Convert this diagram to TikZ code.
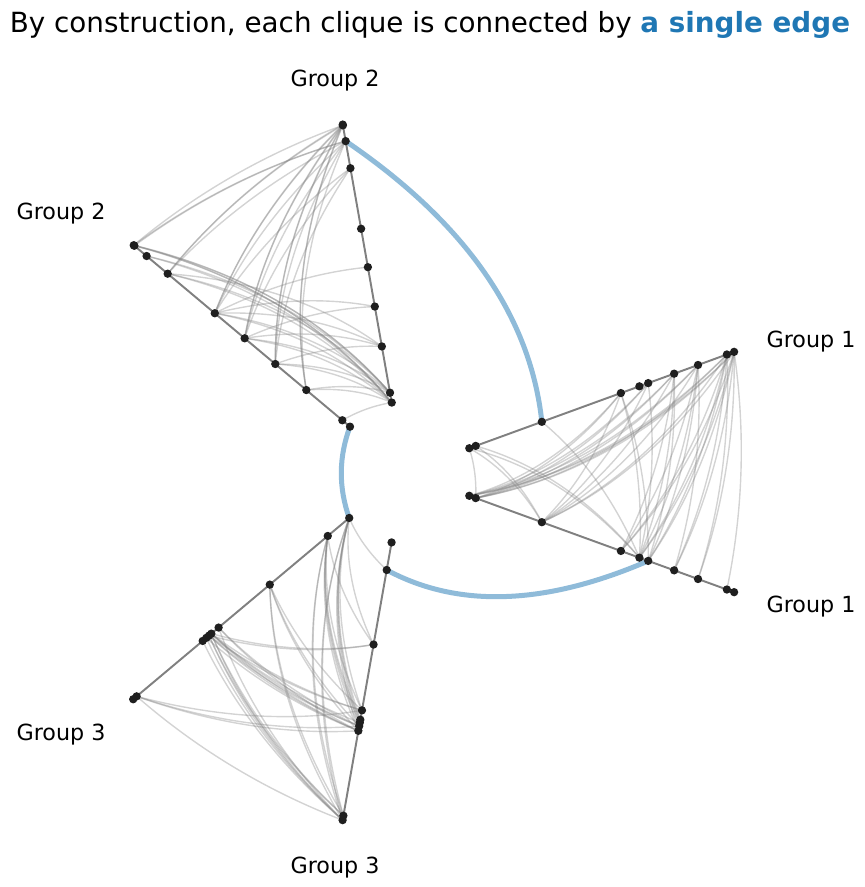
\documentclass[tikz,border=0pt]{standalone}
\usepackage{fontspec}
\setmainfont{DejaVu Sans}
\usetikzlibrary{calc}
\definecolor{hiveblue}{RGB}{31,119,180}
\pgfdeclarelayer{edges}
\pgfdeclarelayer{axes}
\pgfsetlayers{edges,axes,main}

% node radii (inner to outer) and node order of each clique
\def\radsone{{69.5,76.3,146.7,230.8,250.5,259.9,287.5,312.9,343.6,351.3}}
\def\radstwo{{70.5,80.5,127.5,168,208,247,308.5,336,352,352.8}}
\def\radsthree{{71.5,99.5,175.2,242,251.5,254.5,258,262.8,349,353.5}}
\def\ordone{{10,9,8,7,4,6,1,2,3,5}}
\def\ordtwo{{6,5,4,7,3,10,9,8,2,1}}
\def\ordthree{{1,2,5,6,3,9,4,7,8,10}}

% hive edge: quadratic curve with its control point at (angle:radius)
\newcommand{\hiveedge}[5]{%
  \draw[#1] (#2.center) .. controls ($(#2.center)!2/3!(#4:#5)$)
    and ($(#3.center)!2/3!(#4:#5)$) .. (#3.center);
}

% every pair of a clique, from axis a to its repeat axis b
\newcommand{\cliqueedges}[4]{%
  \foreach \pp in {1,...,9}{
    \pgfmathtruncatemacro\pnext{\pp+1}
    \foreach \qq in {\pnext,...,10}{
      \pgfmathtruncatemacro\ua{#4[\pp-1]}
      \pgfmathtruncatemacro\vb{#4[\qq-1]}
      \pgfmathsetmacro\ra{#3[\ua-1]}
      \pgfmathsetmacro\rb{#3[\vb-1]}
      \pgfmathsetmacro\rmid{(\ra+\rb)/2}
      \hiveedge{clique}{#1a-\ua}{#1b-\vb}{#2}{\rmid}
    }
  }
}

\begin{document}
\begin{tikzpicture}[
    x=0.72pt, y=0.72pt,
    dot/.style={circle, fill=black!88, inner sep=0pt, minimum size=6pt},
    axisline/.style={draw=black!50, line width=1.4pt},
    clique/.style={draw=black!50, draw opacity=0.35, line width=1pt},
    bridge/.style={draw=hiveblue, draw opacity=0.5, line width=3.6pt},
    glabel/.style={font=\fontsize{16}{19}\selectfont}
  ]
  \useasboundingbox (-404,-415) rectangle (461,472);

  \node[anchor=base, font=\fontsize{20}{24}\selectfont] (title) at (26,440)
    {By construction, each clique is connected by \textcolor{hiveblue}{\textbf{a single edge}}};

  % nodes on the six axes
  \foreach \k in {1,...,10}{
    \pgfmathsetmacro\rone{\radsone[\k-1]}
    \pgfmathsetmacro\rtwo{\radstwo[\k-1]}
    \pgfmathsetmacro\rthree{\radsthree[\k-1]}
    \node[dot] (g1a-\k) at (20:\rone) {};
    \node[dot] (g1b-\k) at (-20:\rone) {};
    \node[dot] (g2a-\k) at (140:\rtwo) {};
    \node[dot] (g2b-\k) at (100:\rtwo) {};
    \node[dot] (g3a-\k) at (220:\rthree) {};
    \node[dot] (g3b-\k) at (260:\rthree) {};
  }

  \node[glabel] (lab1a) at (407,130) {Group 1};
  \node[glabel] (lab1b) at (407,-135) {Group 1};
  \node[glabel] (lab2a) at (-343,258) {Group 2};
  \node[glabel] (lab2b) at (-69,391) {Group 2};
  \node[glabel] (lab3a) at (-343,-263) {Group 3};
  \node[glabel] (lab3b) at (-69,-396) {Group 3};

  \begin{pgfonlayer}{axes}
    \foreach \g in {g1a,g1b,g2a,g2b,g3a,g3b}
      \draw[axisline] (\g-1.center) -- (\g-10.center);
  \end{pgfonlayer}

  \begin{pgfonlayer}{edges}
    \cliqueedges{g1}{0}{\radsone}{\ordone}
    \cliqueedges{g2}{120}{\radstwo}{\ordtwo}
    \cliqueedges{g3}{240}{\radsthree}{\ordthree}
    % the single edges between cliques
    \hiveedge{bridge}{g2b-8}{g1a-3}{60}{241.4}
    \hiveedge{bridge}{g2a-1}{g3a-1}{180}{71}
    \hiveedge{bridge}{g3b-2}{g1b-6}{300}{179.7}
  \end{pgfonlayer}
\end{tikzpicture}
\end{document}
